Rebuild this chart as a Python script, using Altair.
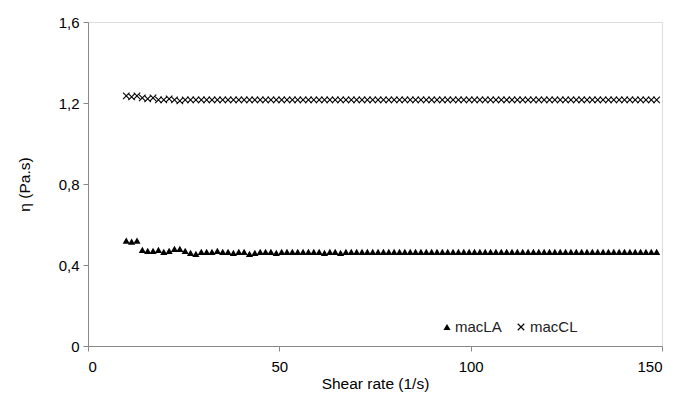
import altair as alt
import pandas as pd

shear_rate = [10.0, 11.4, 12.8, 14.2, 15.6, 17.0, 18.4, 19.8, 21.2, 22.6,
              24.0, 25.4, 26.8, 28.2, 29.6, 31.0, 32.4, 33.8, 35.2, 36.6,
              38.0, 39.4, 40.8, 42.2, 43.6, 45.0, 46.4, 47.8, 49.2, 50.6,
              52.0, 53.4, 54.8, 56.2, 57.6, 59.0, 60.4, 61.8, 63.2, 64.6,
              66.0, 67.4, 68.8, 70.2, 71.6, 73.0, 74.4, 75.8, 77.2, 78.6,
              80.0, 81.4, 82.8, 84.2, 85.6, 87.0, 88.4, 89.8, 91.2, 92.6,
              94.0, 95.4, 96.8, 98.2, 99.6, 101.0, 102.4, 103.8, 105.2, 106.6,
              108.0, 109.4, 110.8, 112.2, 113.6, 115.0, 116.4, 117.8, 119.2, 120.6,
              122.0, 123.4, 124.8, 126.2, 127.6, 129.0, 130.4, 131.8, 133.2, 134.6,
              136.0, 137.4, 138.8, 140.2, 141.6, 143.0, 144.4, 145.8, 147.2, 148.6]

macLA = [0.52, 0.515, 0.52, 0.475, 0.47, 0.47, 0.475, 0.465, 0.47, 0.48,
         0.48, 0.47, 0.46, 0.455, 0.465, 0.465, 0.465, 0.47, 0.465, 0.465,
         0.46, 0.465, 0.465, 0.455, 0.46, 0.465, 0.465, 0.465, 0.46, 0.465,
         0.465, 0.465, 0.465, 0.465, 0.465, 0.465, 0.465, 0.46, 0.465, 0.465,
         0.46, 0.465, 0.465, 0.465, 0.465, 0.465, 0.465, 0.465, 0.465, 0.465,
         0.465, 0.465, 0.465, 0.465, 0.465, 0.465, 0.465, 0.465, 0.465, 0.465,
         0.465, 0.465, 0.465, 0.465, 0.465, 0.465, 0.465, 0.465, 0.465, 0.465,
         0.465, 0.465, 0.465, 0.465, 0.465, 0.465, 0.465, 0.465, 0.465, 0.465,
         0.465, 0.465, 0.465, 0.465, 0.465, 0.465, 0.465, 0.465, 0.465, 0.465,
         0.465, 0.465, 0.465, 0.465, 0.465, 0.465, 0.465, 0.465, 0.465, 0.465]

macCL = [1.235, 1.23, 1.235, 1.225, 1.22, 1.225, 1.215, 1.215, 1.22, 1.215,
         1.21, 1.215, 1.215, 1.215, 1.215, 1.215, 1.215, 1.215, 1.215, 1.215,
         1.215, 1.215, 1.215, 1.215, 1.215, 1.215, 1.215, 1.215, 1.215, 1.215,
         1.215, 1.215, 1.215, 1.215, 1.215, 1.215, 1.215, 1.215, 1.215, 1.215,
         1.215, 1.215, 1.215, 1.215, 1.215, 1.215, 1.215, 1.215, 1.215, 1.215,
         1.215, 1.215, 1.215, 1.215, 1.215, 1.215, 1.215, 1.215, 1.215, 1.215,
         1.215, 1.215, 1.215, 1.215, 1.215, 1.215, 1.215, 1.215, 1.215, 1.215,
         1.215, 1.215, 1.215, 1.215, 1.215, 1.215, 1.215, 1.215, 1.215, 1.215,
         1.215, 1.215, 1.215, 1.215, 1.215, 1.215, 1.215, 1.215, 1.215, 1.215,
         1.215, 1.215, 1.215, 1.215, 1.215, 1.215, 1.215, 1.215, 1.215, 1.215]

series_names = ["macLA", "macCL"]
x_ticks = [0, 50, 100, 150]
y_ticks = [0, 0.4, 0.8, 1.2, 1.6]

df_la = pd.DataFrame({"rate": shear_rate, "eta": macLA, "series": "macLA"})
df_cl = pd.DataFrame({"rate": shear_rate, "eta": macCL, "series": "macCL"})
df_leg = pd.DataFrame({"series": series_names})

cross_path = "M-1,-1L1,1M-1,1L1,-1"
font = "Liberation Sans"
label_color = "#404040"
axis_color = "#333333"

x_enc = alt.X("rate:Q", title="Shear rate (1/s)",
              scale=alt.Scale(domain=[0, 150], nice=False, zero=True),
              axis=alt.Axis(values=x_ticks, grid=False, tickSize=5,
                            labelFontSize=15, titleFontSize=15.5,
                            titleFontWeight="normal",
                            titlePadding=2, labelPadding=8))
y_enc = alt.Y("eta:Q", title="η (Pa.s)",
              scale=alt.Scale(domain=[0, 1.6], nice=False),
              axis=alt.Axis(values=y_ticks, grid=False, tickSize=5,
                            labelFontSize=15, titleFontSize=15.5,
                            titleFontWeight="normal",
                            titlePadding=26, labelPadding=4,
                            labelExpr="datum.value == 0 ? '0' : replace(format(datum.value, '.1f'), '.', ',')"))

la = alt.Chart(df_la).mark_point(shape="triangle-up", filled=True, size=52,
                                 color="black", opacity=1).encode(x=x_enc, y=y_enc)
cl = alt.Chart(df_cl).mark_point(shape=cross_path, filled=False, size=42,
                                 stroke="black", strokeWidth=1.1, opacity=1).encode(x="rate:Q", y="eta:Q")

leg_la_sym = alt.Chart(df_leg).transform_filter("datum.series == 'macLA'").mark_point(
    shape="triangle-up", filled=True, size=52, color="black", opacity=1
).encode(x=alt.value(359), y=alt.value(305))
leg_la_txt = alt.Chart(df_leg).transform_filter("datum.series == 'macLA'").mark_text(
    align="left", baseline="middle", font=font, fontSize=15, color="#222222"
).encode(x=alt.value(367), y=alt.value(305), text="series:N")
leg_cl_sym = alt.Chart(df_leg).transform_filter("datum.series == 'macCL'").mark_point(
    shape=cross_path, filled=False, size=42, stroke="black", strokeWidth=1.1, opacity=1
).encode(x=alt.value(433), y=alt.value(305))
leg_cl_txt = alt.Chart(df_leg).transform_filter("datum.series == 'macCL'").mark_text(
    align="left", baseline="middle", font=font, fontSize=15, color="#222222"
).encode(x=alt.value(442), y=alt.value(305), text="series:N")

chart = alt.layer(la, cl, leg_la_sym, leg_la_txt, leg_cl_sym, leg_cl_txt).properties(
    width=574, height=324,
    autosize=alt.AutoSizeParams(type="none"),
    padding={"left": 80, "top": 14, "right": 8, "bottom": 47},
).configure_view(
    stroke=axis_color, strokeWidth=1.5
).configure_axis(
    domainColor=axis_color, tickColor=axis_color, domainWidth=1.5, tickWidth=1.2,
    labelColor=label_color, titleColor=label_color,
    labelFont=font, titleFont=font, titleFontWeight="normal",
).configure(background="white")

chart.save("out.html", embed_options={"renderer": "svg", "actions": False})
